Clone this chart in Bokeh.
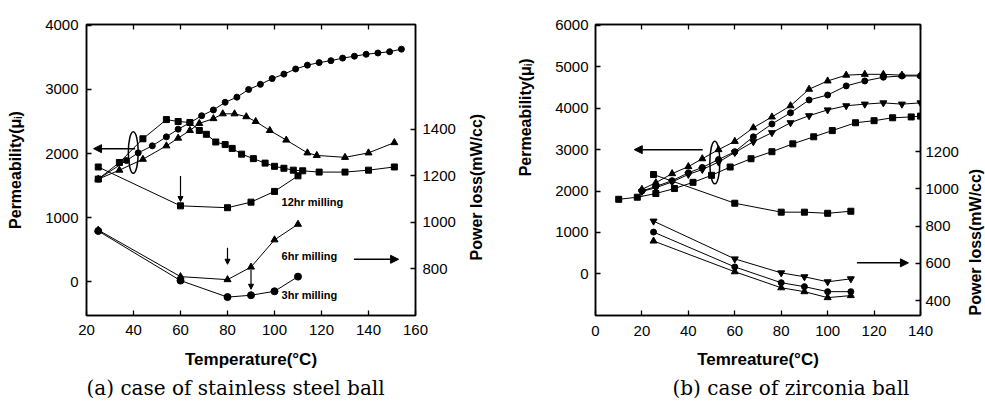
from math import pi
from bokeh.plotting import figure
from bokeh.models import Range1d, LinearAxis, FixedTicker, Label, Arrow, NormalHead, Title
from bokeh.layouts import row
from bokeh.embed import file_html
from bokeh.resources import INLINE

try:
    from bokeh.core.validation import silence
    from bokeh.core.validation.warnings import MISSING_RENDERERS
    silence(MISSING_RENDERERS, True)
except Exception:
    pass

# ---------------- (a) stainless steel ball ----------------
a_circ_T = [25, 37, 42, 48, 54, 59, 64, 69, 74, 79, 84, 89, 94, 99, 104, 109, 114, 119, 124, 129, 134, 139, 144, 149, 154]
a_circ_mu = [1600, 1890, 2010, 2120, 2260, 2380, 2480, 2590, 2680, 2800, 2880, 3000, 3080, 3170, 3240, 3320, 3380, 3420, 3450, 3490, 3520, 3550, 3570, 3590, 3630]
a_tri_T = [25, 34, 44, 54, 59, 64, 68, 74, 78, 83, 88, 92, 98, 105, 114, 118, 130, 140, 151]
a_tri_mu = [1600, 1740, 1910, 2120, 2240, 2360, 2470, 2545, 2620, 2620, 2575, 2500, 2360, 2210, 2010, 1970, 1940, 2010, 2170]
a_sq_T = [25, 34, 44, 54, 59, 64, 68, 71, 75, 79, 82, 86, 91, 96, 100, 104, 108, 112, 119, 130, 140, 151]
a_sq_mu = [1600, 1860, 2230, 2530, 2500, 2485, 2360, 2300, 2180, 2140, 2080, 1990, 1920, 1850, 1800, 1770, 1740, 1730, 1710, 1710, 1740, 1790]
a_pl_T = [25, 60, 80, 90, 100, 110]
a_pl_12hr = [1238, 1071, 1063, 1087, 1133, 1200]
a_pl_6hr = [967, 767, 754, 808, 925, 992]
a_pl_3hr = [963, 750, 679, 687, 704, 767]

# ---------------- (b) zirconia ball ----------------
b_T = [20, 26, 33, 40, 46, 53, 60, 68, 76, 84, 92, 100, 108, 116, 124, 132, 140]
b_tri_up_mu = [2040, 2200, 2420, 2590, 2780, 3000, 3200, 3530, 3790, 4060, 4460, 4660, 4800, 4820, 4820, 4800, 4800]
b_circ_mu = [2000, 2110, 2250, 2440, 2570, 2760, 2950, 3310, 3620, 3890, 4200, 4320, 4540, 4660, 4750, 4780, 4780]
b_tri_dn_mu = [1990, 2080, 2220, 2400, 2520, 2700, 2930, 3190, 3410, 3650, 3820, 3960, 4060, 4100, 4130, 4100, 4130]
b_sq_T = [10, 18, 26, 34, 42, 50, 58, 67, 76, 85, 94, 102, 112, 120, 128, 136, 140]
b_sq_mu = [1800, 1850, 1940, 2060, 2210, 2380, 2580, 2780, 2950, 3140, 3310, 3460, 3650, 3700, 3770, 3790, 3810]
b_pl_T = [25, 60, 80, 90, 100, 110]
b_pl_sq = [1077, 923, 875, 875, 869, 880]
b_pl_tri_dn = [827, 624, 549, 528, 501, 517]
b_pl_circ = [768, 581, 496, 475, 448, 448]
b_pl_tri_up = [720, 555, 469, 448, 416, 427]

a_xticks = [20, 40, 60, 80, 100, 120, 140, 160]
a_yticks = [0, 1000, 2000, 3000, 4000]
a_y2ticks = [800, 1000, 1200, 1400]
b_xticks = [0, 20, 40, 60, 80, 100, 120, 140]
b_yticks = [0, 1000, 2000, 3000, 4000, 5000, 6000]
b_y2ticks = [400, 600, 800, 1000, 1200]

FONT = "Liberation Sans"
SERIF = "DejaVu Serif"


def style_axis(ax, ticks, labels=True, standoff=8):
    ax.ticker = FixedTicker(ticks=ticks)
    ax.axis_line_color = "black"
    ax.axis_line_width = 1.5
    ax.major_tick_line_color = "black"
    ax.major_tick_line_width = 1.3
    ax.major_tick_in = 5
    ax.major_tick_out = 0
    ax.minor_tick_line_color = None
    ax.major_label_standoff = standoff
    ax.major_label_text_font = FONT
    ax.axis_label_text_font = FONT
    ax.axis_label_text_font_style = "bold"
    ax.axis_label_text_font_size = "16px"
    ax.axis_label_text_color = "black"
    if labels:
        ax.major_label_text_font_size = "15px"
        ax.major_label_text_color = "black"
    else:
        ax.major_label_text_font_size = "1px"
        ax.major_label_text_color = None
        ax.major_label_standoff = 0


def make_fig(width, xr, yr, y2r, borders):
    l, r, t, b = borders
    p = figure(width=width, height=403, x_range=xr, y_range=yr,
               output_backend="svg", toolbar_location=None,
               min_border_left=l, min_border_right=r, min_border_top=t, min_border_bottom=b)
    p.extra_y_ranges = {"pl": y2r}
    p.grid.visible = False
    p.outline_line_color = "black"
    p.outline_line_width = 1.5
    p.background_fill_color = "white"
    p.border_fill_color = "white"
    return p


def series(p, x, y, marker, size=6, rng="default"):
    kw = {} if rng == "default" else {"y_range_name": rng}
    p.line(x, y, line_color="black", line_width=1, **kw)
    p.scatter(x, y, marker=marker, size=size, fill_color="black", line_color="black", **kw)


def note(p, x, y, s, size="11px"):
    p.add_layout(Label(x=x, y=y, text=s, text_font=FONT, text_font_size=size,
                       text_font_style="bold", text_align="left", text_baseline="middle",
                       text_color="black"))


def arrow(p, x0, y0, x1, y1, size=8, w=1.5):
    p.add_layout(Arrow(end=NormalHead(size=size, fill_color="black", line_color="black", line_width=1),
                       x_start=x0, y_start=y0, x_end=x1, y_end=y1,
                       line_color="black", line_width=w))


def side_title(text, align, offset, standoff=10, size="16px", bold=True, font=FONT, valign="bottom"):
    return Title(text=text, align=align, offset=offset, standoff=standoff, text_font=font,
                 text_font_size=size, text_font_style="bold" if bold else "normal",
                 text_color="black", vertical_align=valign)


# ---------- panel (a) ----------
pa = make_fig(458, Range1d(20, 160), Range1d(-530, 4015), Range1d(600, 1850), (86, 41, 15, 88))
style_axis(pa.xaxis[0], a_xticks, standoff=9)
pa.xaxis[0].axis_label = "Temperature(°C)"
pa.xaxis[0].axis_label_standoff = 12
pa.xaxis[0].axis_label_text_font_size = "17px"
style_axis(pa.yaxis[0], a_yticks, standoff=8)
pa.yaxis[0].axis_label = "Permeability(μᵢ)"
pa.yaxis[0].axis_label_standoff = 18
ax_top = LinearAxis()
style_axis(ax_top, a_xticks[1:-1], labels=False)
pa.add_layout(ax_top, "above")
ax_r = LinearAxis(y_range_name="pl")
style_axis(ax_r, a_y2ticks, standoff=7)
pa.add_layout(ax_r, "right")
pa.add_layout(side_title("(a) case of stainless steel ball", "left", 0, standoff=4,
                         size="20px", bold=False, font=SERIF), "below")

series(pa, a_circ_T, a_circ_mu, "circle", 6)
series(pa, a_tri_T, a_tri_mu, "triangle", 7)
series(pa, a_sq_T, a_sq_mu, "square", 6)
series(pa, a_pl_T, a_pl_12hr, "square", 6, "pl")
series(pa, a_pl_T, a_pl_6hr, "triangle", 7, "pl")
series(pa, a_pl_T, a_pl_3hr, "circle", 7, "pl")

pa.ellipse(x=[39.9], y=[2015], width=4.2, height=650, fill_color=None, line_color="black", line_width=1.5)
arrow(pa, 40.7, 2076, 23.0, 2076)
arrow(pa, 133.8, 348, 152.8, 348)
arrow(pa, 60, 1650, 60, 1250, size=5, w=1.2)
arrow(pa, 80, 530, 80, 270, size=5, w=1.2)
arrow(pa, 90, 182, 90, -120, size=5, w=1.2)
note(pa, 103, 1242, "12hr milling")
note(pa, 103, 394, "6hr milling")
note(pa, 103, -212, "3hr milling")

# ---------- panel (b) ----------
pb = make_fig(503, Range1d(0, 140), Range1d(-1008, 6024), Range1d(320, 1883), (137, 39, 24, 86))
style_axis(pb.xaxis[0], b_xticks, standoff=10)
pb.xaxis[0].axis_label = "Temreature(°C)"
pb.xaxis[0].axis_label_standoff = 11
pb.xaxis[0].axis_label_text_font_size = "17px"
style_axis(pb.yaxis[0], b_yticks, standoff=7)
bx_top = LinearAxis()
style_axis(bx_top, b_xticks[1:], labels=False)
pb.add_layout(bx_top, "above")
bx_r = LinearAxis(y_range_name="pl")
style_axis(bx_r, b_y2ticks, standoff=5)
pb.add_layout(bx_r, "right")
# vertical titles on the left of panel (b): its own permeability label, then panel (a)'s power-loss label
pb.add_layout(side_title("Permeability(μᵢ)", "right", 34, standoff=38), "left")
pb.add_layout(side_title("Power loss(mW/cc)", "left", 55, standoff=18, valign="top"), "left")
pb.add_layout(side_title("(b) case of zirconia  ball", "left", 77, standoff=4,
                         size="20px", bold=False, font=SERIF), "below")

series(pb, b_T, b_tri_up_mu, "triangle", 7)
series(pb, b_T, b_circ_mu, "circle", 6)
series(pb, b_T, b_tri_dn_mu, "inverted_triangle", 7)
series(pb, b_sq_T, b_sq_mu, "square", 6)
series(pb, b_pl_T, b_pl_sq, "square", 6, "pl")
series(pb, b_pl_T, b_pl_tri_dn, "inverted_triangle", 7, "pl")
series(pb, b_pl_T, b_pl_circ, "circle", 6, "pl")
series(pb, b_pl_T, b_pl_tri_up, "triangle", 7, "pl")

pb.ellipse(x=[51.4], y=[2688], width=4.3, height=1030, fill_color=None, line_color="black", line_width=1.5)
arrow(pb, 46.2, 3000, 16.7, 3000)
arrow(pb, 112.6, 264, 134.8, 264)

# ---------- narrow strip holding panel (b)'s right-hand axis title ----------
pc = figure(width=24, height=403, output_backend="svg", toolbar_location=None,
            x_axis_location=None, y_axis_location=None,
            min_border_left=23, min_border_right=0, min_border_top=24, min_border_bottom=86)
pc.grid.visible = False
pc.outline_line_color = None
pc.add_layout(side_title("Power loss(mW/cc)", "left", 0, standoff=2), "left")

layout = row(pa, pb, pc, spacing=0)
open("out.html", "w").write(file_html(layout, INLINE))
